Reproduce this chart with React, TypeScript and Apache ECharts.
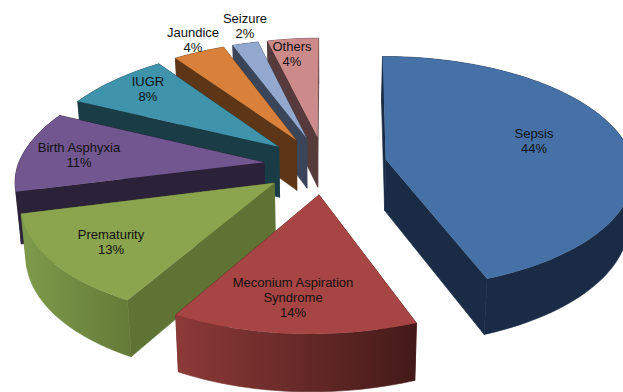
import React, { useEffect, useRef } from "react";
import * as echarts from "echarts";

// Causes of neonatal deaths, share of total in percent
const categories = [
  "Sepsis",
  "Meconium Aspiration\nSyndrome",
  "Prematurity",
  "Birth Asphyxia",
  "IUGR",
  "Jaundice",
  "Seizure",
  "Others",
];
const shares = [44, 14, 13, 11, 8, 4, 2, 4];

const topColors = ["#4571a6", "#a64543", "#8aa54e", "#71568f", "#3f93ab", "#d9803a", "#92a8cf", "#cc8b8a"];
const wallColors = ["#1a2c45", "#5a2220", "#5f7335", "#2b2138", "#1a3c47", "#5c3616", "#3a4559", "#573a3b"];
const rimStops = [
  ["#1a2c45", "#1a2c45"],
  ["#8c3a38", "#431a18"],
  ["#7f9b4b", "#647a38"],
  ["#2b2138", "#2b2138"],
  ["#1a3c47", "#1a3c47"],
  ["#5c3616", "#5c3616"],
  ["#3a4559", "#3a4559"],
  ["#573a3b", "#573a3b"],
];
// Centre of each text block, in pixels
const labelAnchors = [
  [534, 141],
  [293, 297],
  [111, 242],
  [79, 155],
  [148, 89],
  [193, 40],
  [245, 26],
  [292, 54],
];

// Projection of the tilted pie plane onto the screen
const CX = 325;
const CY = 165;
const RX_RIGHT = 248;
const RX_LEFT = 246;
const RY = 116;
const PERSPECTIVE = 0.1135;
const EXPLODE = 0.25;

type Pt = [number, number];

const project = (x: number, y: number): Pt => {
  const s = 1 / (1 - PERSPECTIVE * y);
  const dx = (x < 0 ? RX_LEFT : RX_RIGHT) * x * s;
  let sx = CX + dx;
  if (y > 0) {
    sx -= 8 * y; // the near half leans to the left
  } else if (x < 0) {
    sx -= dx * 0.04 * -y; // the far left foreshortens more
  } else {
    sx -= 3 * y; // the far right leans to the right
  }
  return [sx, CY + RY * y * s];
};

// Foot of the extruded wall under a point of the top face
const drop = ([x, y]: Pt): Pt => [x + (CX - x) * 0.018, y + 50 + (y - 136) * 0.04];

const total = shares.reduce((a, b) => a + b, 0);

function sliceGeometry(index: number) {
  const before = shares.slice(0, index).reduce((a, b) => a + b, 0);
  const start = (before / total) * Math.PI * 2;
  const end = ((before + shares[index]) / total) * Math.PI * 2;
  const mid = (start + end) / 2;
  const ox = EXPLODE * Math.sin(mid);
  const oy = -EXPLODE * Math.cos(mid);
  const apex = project(ox, oy);
  const rim: Pt[] = [];
  const steps = Math.max(6, Math.ceil((end - start) * 40));
  for (let k = 0; k <= steps; k++) {
    const a = start + ((end - start) * k) / steps;
    rim.push(project(ox + Math.sin(a), oy - Math.cos(a)));
  }
  return { apex, rim };
}

const poly = (points: Pt[], fill: unknown, seam = true) => ({
  type: "polygon",
  shape: { points },
  style: seam ? { fill, stroke: fill, lineWidth: 0.6 } : { fill, stroke: null },
  silent: true,
});

const wall = (a: Pt, b: Pt, fill: unknown) => poly([a, b, drop(b), drop(a)], fill);

// Slices are painted back to front, so the series data runs in reverse
function renderSlice(params: { dataIndex: number }, api: { value: (d: number) => number }) {
  const index = shares.length - 1 - params.dataIndex;
  const { apex, rim } = sliceGeometry(index);
  const first = rim[0];
  const last = rim[rim.length - 1];
  const rimWall = poly(
    [...rim, ...rim.map(drop).reverse()],
    new echarts.graphic.LinearGradient(0, 0, 1, 0, [
      { offset: 0, color: rimStops[index][0] },
      { offset: 1, color: rimStops[index][1] },
    ]),
  );
  const [lx, ly] = labelAnchors[index];
  return {
    type: "group",
    children: [
      wall(apex, last, wallColors[index]),
      wall(apex, first, wallColors[index]),
      rimWall,
      poly([apex, ...rim], topColors[index], false),
      {
        type: "text",
        silent: true,
        style: {
          text: `${categories[index]}\n${api.value(0)}%`,
          x: lx,
          y: ly,
          align: "center",
          verticalAlign: "middle",
          lineHeight: 15,
          fill: "#111111",
          font: '13px "Liberation Sans", Arial, sans-serif',
        },
      },
    ],
  };
}

export default function App() {
  const ref = useRef<HTMLDivElement>(null);
  useEffect(() => {
    const chart = echarts.init(ref.current!, null, { renderer: "svg" });
    chart.setOption({
      animation: false,
      backgroundColor: "#ffffff",
      series: [
        {
          type: "custom",
          coordinateSystem: "none",
          renderItem: renderSlice,
          data: [...shares].reverse().map((v) => [v]),
          silent: true,
        },
      ],
    });
    return () => chart.dispose();
  }, []);
  return (
    <div
      ref={ref}
      style={{ position: "fixed", left: 0, top: 0, width: 623, height: 392, overflow: "hidden" }}
    />
  );
}
